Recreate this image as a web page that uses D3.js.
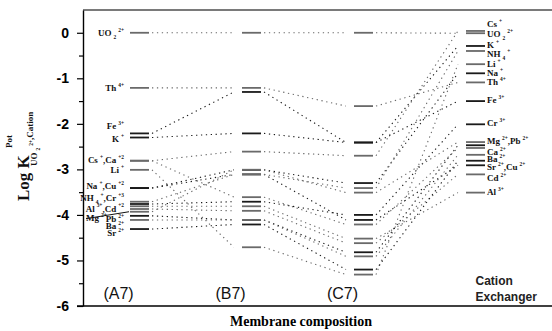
<!DOCTYPE html>
<html><head><meta charset="utf-8">
<script src="https://cdn.jsdelivr.net/npm/d3@7"></script>
<style>body{margin:0;background:#fff}svg{display:block}</style>
</head><body><svg id="c" width="552" height="331"></svg>
<script>
// ---------- data ----------
const columns = ["(A7)", "(B7)", "(C7)", "Cation Exchanger"];
const ions = ["UO2","Th","Fe","K","Cs","Ca","Li","Na","Cu","NH4","Cr","Al","Cd","Mg","Pb","Ba","Sr"];
const valA7 = [0, -1.21, -2.21, -2.30, -2.81, -2.81, -3.01, -3.41, -3.41, -3.71, -3.76, -3.81, -3.87, -3.93, -4.02, -4.11, -4.31];
const valB7 = [0, -1.21, -1.30, -2.21, -2.61, -3.61, -4.71, -3.01, -3.11, -3.11, -3.71, -3.81, -3.91, -3.01, -4.11, -4.11, -4.21];
const valC7 = [0, -1.61, -2.41, -2.41, -2.70, -4.21, -5.31, -3.30, -4.11, -3.41, -4.00, -4.52, -4.62, -3.51, -4.82, -4.91, -5.20];
const valCE = [-0.01, -1.09, -1.50, -0.29, 0.04, -2.53, -0.69, -0.89, -2.91, -0.40, -2.01, -3.51, -3.11, -2.40, -2.47, -2.68, -2.81];
const yTicks = [0, -1, -2, -3, -4, -5, -6];
const yMinorTicks = [-0.5, -1.5, -2.5, -3.5, -4.5, -5.5];
const leftLabels = ["UO_{2}^{2+}", "Th^{4+}", "Fe^{3+}", "K^{+}", "Cs^{+},Ca^{+2}", "Li^{+}", "Na^{+},Cu^{+2}", "NH_{4}^{+},Cr^{+3}", "Al^{3+},Cd^{+2}", "Pb^{2+}", "Ba^{2+}", "Sr^{2+}"];
const leftLabelAt = [0, -1.21, -2.05, -2.33, -2.80, -3.02, -3.37, -3.63, -3.86, -4.08, -4.25, -4.40];
const mgLabel = "Mg^{2+}";
const mgLabelAt = -4.06;
const rightLabels = ["Cs^{+}", "UO_{2}^{2+}", "K^{+}", "NH_{4}^{+}", "Li^{+}", "Na^{+}", "Th^{4+}", "Fe^{3+}", "Cr^{3+}", "Mg^{2+},Pb^{2+}", "Ca^{2+}", "Ba^{2+}", "Sr^{2+},Cu^{2+}", "Cd^{2+}", "Al^{3+}"];
const rightLabelAt = [0.19, -0.02, -0.27, -0.47, -0.69, -0.88, -1.08, -1.48, -1.99, -2.37, -2.62, -2.78, -2.95, -3.18, -3.49];

// ---------- style ----------
const DARK = "#1a1a1a", GREY = "#6a6a6a";
const darkIons = new Set(["Fe","K","Na","Cu","Cr","Pb","Sr"]);
const toneOf = ion => darkIons.has(ion) ? DARK : GREY;

const svg = d3.select("#c");
const x = d3.scalePoint().domain(d3.range(columns.length)).range([139.5, 475.5]);
const y = d3.scaleLinear().domain([-6, 0.5]).range([306, 10]);
const plotL = 83, plotR = 552;
const bw = 19;
const cols = [valA7, valB7, valC7, valCE];

// frame lines
svg.append("line").attr("x1", plotL).attr("x2", plotR).attr("y1", y(0.5)).attr("y2", y(0.5))
  .attr("stroke", "#7a7a7a").attr("stroke-width", 2);
svg.append("line").attr("x1", plotL - 6).attr("x2", plotR).attr("y1", y(-6)).attr("y2", y(-6))
  .attr("stroke", "#000").attr("stroke-width", 1.4);

// y axis
const ax = svg.append("g").attr("transform", `translate(${plotL},0)`)
  .call(d3.axisLeft(y).tickValues(yTicks).tickSize(6).tickSizeOuter(0).tickPadding(8)
    .tickFormat(d => d === 0 ? "0" : String(d)));
ax.select(".domain").attr("stroke", "#000").attr("stroke-width", 1.4);
ax.selectAll(".tick line").attr("stroke", "#000").attr("stroke-width", 1.2);
ax.selectAll(".tick text").attr("font-family", "Liberation Sans, Arial, sans-serif")
  .attr("font-weight", "bold").attr("font-size", 14).attr("fill", "#000");
const axm = svg.append("g").attr("transform", `translate(${plotL},0)`)
  .call(d3.axisLeft(y).tickValues(yMinorTicks).tickSize(4).tickSizeOuter(0).tickFormat(""));
axm.select(".domain").remove();
axm.selectAll(".tick line").attr("stroke", "#000").attr("stroke-width", 1.2);

// dotted connectors
for (let c = 0; c < cols.length - 1; c++) {
  ions.forEach((ion, i) => {
    svg.append("line")
      .attr("x1", x(c) + bw / 2 + 3).attr("x2", x(c + 1) - bw / 2 - 8)
      .attr("y1", y(cols[c][i])).attr("y2", y(cols[c + 1][i]))
      .attr("stroke", toneOf(ion)).attr("stroke-width", 1.1)
      .attr("stroke-dasharray", "1.3,3.6");
  });
}
// bars
cols.forEach((vals, c) => {
  ions.forEach((ion, i) => {
    svg.append("line")
      .attr("x1", x(c) - bw / 2).attr("x2", x(c) + bw / 2)
      .attr("y1", y(vals[i])).attr("y2", y(vals[i]))
      .attr("stroke", toneOf(ion)).attr("stroke-width", 1.8);
  });
});

// rich text helper
function rich(sel, str, fs) {
  const parts = str.split(/(\^\{[^}]*\}|_\{[^}]*\})/).filter(s => s !== "");
  let shift = 0;
  parts.forEach(p => {
    let t = p, target = 0, size = fs, dx = 0;
    if (p.startsWith("^{")) { t = p.slice(2, -1); target = -fs * 0.45; size = fs * 0.6; dx = 2; }
    else if (p.startsWith("_{")) { t = p.slice(2, -1); target = fs * 0.35; size = fs * 0.6; dx = 2; }
    sel.append("tspan").attr("dy", target - shift).attr("dx", dx).attr("font-size", size).text(t);
    shift = target;
  });
}
const serif = "Liberation Serif, Times New Roman, serif";
const LFS = 9;

// left labels
leftLabels.forEach((lab, k) => {
  const t = svg.append("text").attr("x", 124).attr("y", y(leftLabelAt[k]) + 3)
    .attr("text-anchor", "end").attr("font-family", serif).attr("font-weight", "bold")
    .attr("fill", "#111");
  rich(t, lab, LFS);
});
const mgT = svg.append("text").attr("x", 86).attr("y", y(mgLabelAt) + 3)
  .attr("font-family", serif).attr("font-weight", "bold").attr("fill", "#111");
rich(mgT, mgLabel, LFS);
svg.append("line").attr("x1", 86).attr("y1", y(mgLabelAt) + 1)
  .attr("x2", x(0) - bw / 2 - 1).attr("y2", y(valA7[ions.indexOf("Mg")]))
  .attr("stroke", "#111").attr("stroke-width", 1);

// right labels
rightLabels.forEach((lab, k) => {
  const t = svg.append("text").attr("x", 487).attr("y", y(rightLabelAt[k]) + 3)
    .attr("font-family", serif).attr("font-weight", "bold").attr("fill", "#111");
  rich(t, lab, LFS);
});

// column labels
columns.slice(0, 3).forEach((lab, c) => {
  svg.append("text").attr("x", x(c) - 21).attr("y", 299).attr("text-anchor", "middle")
    .attr("font-family", "Liberation Sans, Arial, sans-serif").attr("font-size", 16)
    .attr("fill", "#111").text(lab);
});
const ce = svg.append("text").attr("x", x(3)).attr("y", 285)
  .attr("font-family", "Liberation Sans, Arial, sans-serif").attr("font-size", 12)
  .attr("font-weight", "bold").attr("fill", "#222");
columns[3].split(" ").forEach((w, k) => ce.append("tspan").attr("x", x(3)).attr("dy", k ? 16 : 0).text(w));

// axis titles
svg.append("text").attr("x", 301).attr("y", 326).attr("text-anchor", "middle")
  .attr("font-family", serif).attr("font-weight", "bold").attr("font-size", 14)
  .text("Membrane composition");
const yt = svg.append("g").attr("transform", "rotate(-90)")
  .attr("font-family", serif).attr("font-weight", "bold").attr("fill", "#111");
yt.append("text").attr("x", -201).attr("y", 29).attr("font-size", 17).text("Log K");
yt.append("text").attr("x", -148).attr("y", 12).attr("font-size", 9).text("Pot");
const sub = yt.append("text").attr("x", -166).attr("y", 37);
rich(sub, "UO_{2}^{2+}", 9);
sub.append("tspan").attr("dy", 0).attr("font-size", 9).text(",Cation");
</script>
</body></html>
